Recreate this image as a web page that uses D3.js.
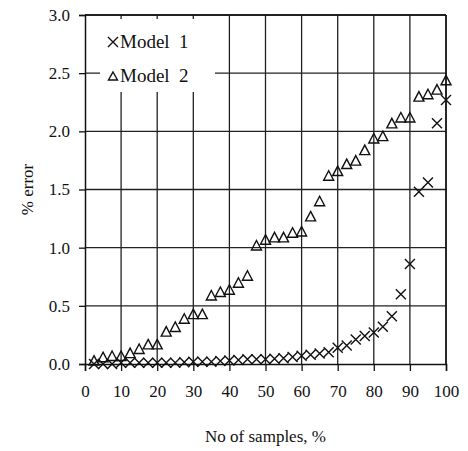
<!DOCTYPE html>
<html>
<head>
<meta charset="utf-8">
<script src="https://cdn.jsdelivr.net/npm/d3@7"></script>
<style>
  body { margin: 0; font-family: "Liberation Serif", serif; }
  #chart svg text { font-family: "Liberation Serif", serif; }
</style>
</head>
<body>
<div id="chart"></div>
<script>
const samples = [2.5, 5, 7.5, 10, 12.5, 15, 17.5, 20, 22.5, 25, 27.5, 30, 32.5, 35, 37.5, 40,
  42.5, 45, 47.5, 50, 52.5, 55, 57.5, 60, 62.5, 65, 67.5, 70, 72.5, 75, 77.5, 80, 82.5, 85,
  87.5, 90, 92.5, 95, 97.5, 100];

const model1 = [0.00, 0.00, 0.00, 0.01, 0.01, 0.01, 0.01, 0.01, 0.01, 0.01, 0.015, 0.02, 0.02,
  0.02, 0.025, 0.03, 0.035, 0.04, 0.04, 0.04, 0.045, 0.05, 0.06, 0.07, 0.08, 0.09, 0.10, 0.14,
  0.16, 0.21, 0.24, 0.27, 0.32, 0.41, 0.60, 0.86, 1.48, 1.56, 2.07, 2.27];

const model2 = [0.02, 0.05, 0.06, 0.06, 0.085, 0.12, 0.16, 0.16, 0.27, 0.31, 0.38, 0.42, 0.42,
  0.58, 0.61, 0.63, 0.69, 0.75, 1.01, 1.06, 1.08, 1.08, 1.12, 1.13, 1.26, 1.39, 1.61, 1.65,
  1.71, 1.74, 1.83, 1.93, 1.95, 2.06, 2.11, 2.11, 2.29, 2.31, 2.35, 2.43];

const xTicks = [0, 10, 20, 30, 40, 50, 60, 70, 80, 90, 100];
const yTicks = [0, 0.5, 1.0, 1.5, 2.0, 2.5, 3.0];
const seriesNames = ["Model  1", "Model  2"];

const width = 468, height = 451;
const margin = { top: 15, right: 22, bottom: 87, left: 85 };
const iw = width - margin.left - margin.right;
const ih = height - margin.top - margin.bottom;

const svg = d3.select("#chart").append("svg")
  .attr("width", width)
  .attr("height", height)
  .style("display", "block");

const g = svg.append("g").attr("transform", `translate(${margin.left},${margin.top})`);

const x = d3.scaleLinear().domain([0, 100]).range([0, iw]);
const y = d3.scaleLinear().domain([0, 3]).range([ih, 0]);

// grid
g.append("g").selectAll("line")
  .data(xTicks.slice(1))
  .enter().append("line")
  .attr("x1", d => x(d)).attr("x2", d => x(d))
  .attr("y1", 0).attr("y2", ih)
  .attr("stroke", "#222").attr("stroke-width", 1.3);

g.append("g").selectAll("line")
  .data(yTicks.slice(1))
  .enter().append("line")
  .attr("x1", 0).attr("x2", iw)
  .attr("y1", d => y(d)).attr("y2", d => y(d))
  .attr("stroke", "#222").attr("stroke-width", 1.3);

// axes (drop d3's default sans-serif attribute so the page font applies)
const xAxis = g.append("g")
  .attr("transform", `translate(0,${ih})`)
  .call(d3.axisBottom(x).tickValues(xTicks).tickSize(7).tickPadding(14).tickFormat(d3.format("d")))
  .attr("font-family", null)
  .attr("font-size", 17);
xAxis.select(".domain").attr("stroke", "#111").attr("stroke-width", 1.5);
xAxis.selectAll(".tick line").attr("stroke", "#111").attr("stroke-width", 1.3);
xAxis.selectAll("text").attr("fill", "#111");

const yAxis = g.append("g")
  .call(d3.axisLeft(y).tickValues(yTicks).tickSize(6).tickPadding(9).tickFormat(d3.format(".1f")))
  .attr("font-family", null)
  .attr("font-size", 17);
yAxis.select(".domain").attr("stroke", "#111").attr("stroke-width", 1.5);
yAxis.selectAll(".tick line").attr("stroke", "#111").attr("stroke-width", 1.3);
yAxis.selectAll("text").attr("fill", "#111");

// frame top / right
g.append("line").attr("x1", 0).attr("x2", iw).attr("y1", 0).attr("y2", 0)
  .attr("stroke", "#111").attr("stroke-width", 1.5);
g.append("line").attr("x1", iw).attr("x2", iw).attr("y1", 0).attr("y2", ih)
  .attr("stroke", "#111").attr("stroke-width", 1.5);

// legend background
g.append("rect")
  .attr("x", 15).attr("y", 4)
  .attr("width", 115).attr("height", 73)
  .attr("fill", "#fff");

// markers
const crossPath = "M-5,-5L5,5M-5,5L5,-5";
const triPath = "M0,-5L5,4.5L-5,4.5Z";

const m1 = samples.map((s, i) => ({ x: s, y: model1[i] }));
const m2 = samples.map((s, i) => ({ x: s, y: model2[i] }));

g.append("g").selectAll("path")
  .data(m2)
  .enter().append("path")
  .attr("d", triPath)
  .attr("transform", d => `translate(${x(d.x)},${y(d.y) - 1})`)
  .attr("fill", "none").attr("stroke", "#111").attr("stroke-width", 1.4);

g.append("g").selectAll("path")
  .data(m1)
  .enter().append("path")
  .attr("d", crossPath)
  .attr("transform", d => `translate(${x(d.x)},${y(d.y)})`)
  .attr("fill", "none").attr("stroke", "#111").attr("stroke-width", 1.4);

// legend
const legend = g.append("g").attr("transform", "translate(28,27)");
legend.append("path").attr("d", crossPath)
  .attr("fill", "none").attr("stroke", "#111").attr("stroke-width", 1.4);
legend.append("path").attr("d", "M0,-4L4.5,4L-4.5,4Z").attr("transform", "translate(0,34)")
  .attr("fill", "none").attr("stroke", "#111").attr("stroke-width", 1.4);
legend.selectAll("text")
  .data(seriesNames)
  .enter().append("text")
  .attr("x", 7)
  .attr("y", (d, i) => i * 34 + 6)
  .attr("fill", "#111")
  .attr("font-size", 19)
  .style("white-space", "pre")
  .text(d => d);

// axis titles
svg.append("text")
  .attr("x", margin.left + iw / 2)
  .attr("y", 442)
  .attr("text-anchor", "middle")
  .attr("fill", "#111")
  .attr("font-size", 17)
  .text("No of samples, %");

svg.append("text")
  .attr("transform", `translate(33,${margin.top + ih / 2}) rotate(-90)`)
  .attr("text-anchor", "middle")
  .attr("fill", "#111")
  .attr("font-size", 17)
  .text("% error");
</script>
</body>
</html>
